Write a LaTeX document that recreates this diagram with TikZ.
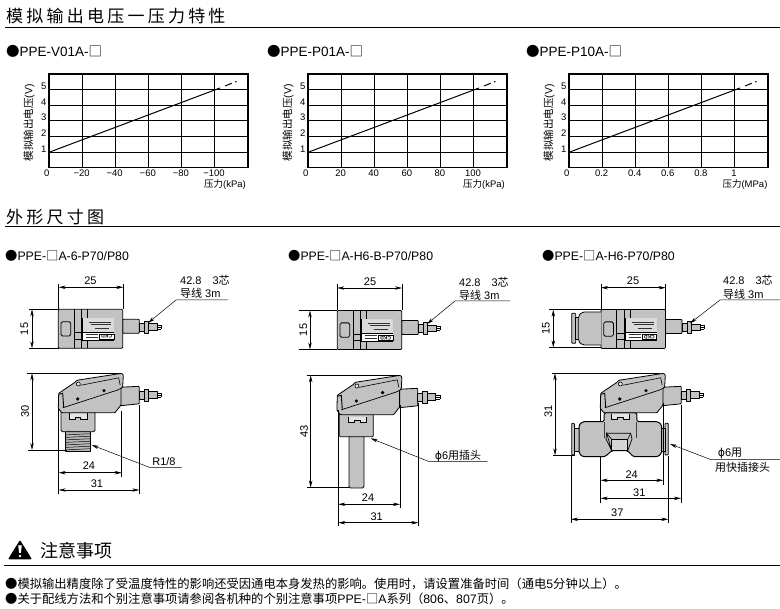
\documentclass[tikz,border=0pt]{standalone}
\usepackage{fontspec}
\setmainfont{Liberation Sans}
\newfontfamily\cjk{Noto Sans CJK SC}
\newfontfamily\cjkhead[LetterSpace=19]{Noto Sans CJK SC}
\newfontfamily\symb{DejaVu Sans}
\usetikzlibrary{arrows.meta}
\newcommand{\sz}[1]{\fontsize{#1}{#1}\selectfont}
\definecolor{devgray}{HTML}{C2C2C2}
\tikzset{
  rule/.style={line width=0.9pt},
  heading/.style={anchor=west, inner sep=0pt, font=\sz{17}},
  subtitle/.style={anchor=west, inner sep=0pt, font=\sz{12.3}},
  grid line/.style={line width=0.7pt},
  frame line/.style={line width=1.4pt},
  curve line/.style={line width=1pt},
  ticklabel/.style={inner sep=0pt, font=\sz{9.5}},
  dev/.style={draw, fill=devgray, line width=0.8pt, line join=round},
  dimline/.style={line width=0.5pt, {Stealth[length=7pt,width=3.4pt]}-{Stealth[length=7pt,width=3.4pt]}},
  extline/.style={line width=0.5pt},
  leader/.style={line width=0.5pt, -{Stealth[length=7pt,width=3.4pt]}},
  dimtext/.style={inner sep=0pt, font=\sz{11}},
  note/.style={anchor=west, inner sep=0pt, font=\sz{12.3}}
}
\newcommand{\pressurechart}[3]{
\begin{scope}[xshift=#1pt]
\foreach \yy in {89.3,105,120.7,136.7,152.3}
  \draw[grid line] (49,\yy) -- (248,\yy);
\foreach \xx in {82.5,115.7,148.5,181.7,214.3}
  \draw[grid line] (\xx,74) -- (\xx,167.3);
\draw[frame line] (49,74) rectangle (248,167.3);
\draw[curve line] (49,152.3) -- (220,88);
\draw[curve line] (225,86) -- (231.7,83.3);
\draw[curve line] (235,82) -- (236.5,81.5);
\foreach \lab [count=\i from 0] in {1,2,3,4,5}
  \node[ticklabel] (ylab#2\i) at (43.7,{149-\i*15.7}) {\lab};
\foreach \lab [count=\i from 0] in {#3}
  \node[ticklabel] (xlab#2\i) at ({\i==0 ? 46.7 : 48.5+\i*33.1},173.5) {\lab};
\node[ticklabel, rotate=90, font=\sz{10.5}] (ytitle#2) at (29,123) {{\cjk 模拟输出电压}(V)};
\end{scope}
}
\newcommand{\plugpart}{
\draw[dev] (0,-4) rectangle (5,4);
\draw[dev] (5,-6) rectangle (9.4,6);
\draw[dev] (9.4,-3.4) rectangle (18,3.4);
\draw[line width=0.6pt] (18,-2) -- (22,-2) (18,0) -- (22,0) (18,2) -- (22,2) (22,-2) -- (22,2);
}
\newcommand{\devhead}{
\draw[dev, rounded corners=0.8pt] (61,14) -- (80.5,13) -- (80.5,30.5) -- (61,32.5) -- cycle;
\begin{scope}[shift={(80.5,22)}]
\plugpart
\end{scope}
\draw[dev, rounded corners=0.8pt] (0,20) -- (16.3,9) -- (18,7) -- (63,0) -- (64.6,1.7) -- (64,13.4) -- (62.3,15)
  -- (62.3,31.7) -- (56.3,39.4) -- (3,39.4) -- (-0.4,35) -- cycle;
\draw[line width=0.7pt] (4,34.5) -- (59,16.7) -- (62.3,15);
\draw[line width=0.9pt] (0,21) -- (4,20) -- (5,34);
\draw[line width=0.6pt] (22,12) -- (60,4.5) -- (61.5,12);
\fill (19,25.7) circle (1.8);
\fill (45.3,17.3) circle (1.8);
\draw[line width=0.6pt, fill=gray!20] (19.6,10.7) circle (2);
}
\newcommand{\devtop}[1]{
\draw[dev, rounded corners=0.8pt] (64.4,10) rectangle (81,24);
\begin{scope}[shift={(81,18)}]
\plugpart
\end{scope}
\draw[dev, rounded corners=1pt] (0,0) rectangle (64.4,39);
\draw[line width=0.8pt, rounded corners=1.5pt] (2.7,12.4) rectangle (12.4,26.7);
\draw[line width=0.7pt] (15.7,0) -- (15.7,39) (23.4,0) -- (23.4,39) (29,0) -- (29,39);
\draw[line width=0.7pt] (15.7,23.4) -- (23.4,23.4) (15.7,30) -- (23.4,30);
\fill[devgray!60] (24,9) rectangle (55.7,23);
\fill[white] (24,23) rectangle (55.7,30.7);
\draw[line width=0.7pt] (24,9) -- (24,30.7) -- (55.7,30.7);
\draw[line width=1.2pt] (24,23) -- (55.7,23);
\draw[line width=0.4pt, gray!40!black] (31,12.5) -- (53,12.5) (33,15) -- (53,15) (37,18.5) -- (51,18.5) (28,25) -- (40,25) (28,27.5) -- (40,27.5);
\draw[line width=0.7pt, fill=white] (41,24.7) rectangle (55.7,30.2);
\node[inner sep=0pt, rotate=180, font=\sz{5}\bfseries] (ckd#1) at (48.3,27.4) {CKD};
}
\begin{document}
\begin{tikzpicture}[x=1pt,y=-1pt]
\useasboundingbox (0,0) rectangle (780,609);
\fill[white] (0,0) rectangle (780,609);

\node[heading] (headA) at (6,16) {\cjkhead 模拟输出电压一压力特性};
\draw[rule] (5,27) -- (780,27);
\node[heading] (headB) at (6,217) {\cjkhead 外形尺寸图};
\draw[rule] (5,226.5) -- (780,226.5);
\node[heading, font=\sz{18}] (headC) at (40,551) {\cjk 注意事项};
\draw[rule] (4,565.5) -- (780,565.5);

\node[subtitle, font=\sz{13.5}] (chartA) at (6,51) {{\cjk ●}PPE-V01A-{\cjk □}};
\node[subtitle, font=\sz{13.5}] (chartB) at (267,51) {{\cjk ●}PPE-P01A-{\cjk □}};
\node[subtitle, font=\sz{13.5}] (chartC) at (526,51) {{\cjk ●}PPE-P10A-{\cjk □}};
\pressurechart{0}{A}{0,−20,−40,−60,−80,−100}
\pressurechart{259}{B}{0,20,40,60,80,100}
\pressurechart{520}{C}{0,0.2,0.4,0.6,0.8,1}
\node[ticklabel] (unitA) at (225,185) {{\cjk 压力}(kPa)};
\node[ticklabel] (unitB) at (484,185) {{\cjk 压力}(kPa)};
\node[ticklabel] (unitC) at (745,185) {{\cjk 压力}(MPa)};

\node[subtitle] (devA) at (5,256) {{\cjk ●}PPE-{\cjk □}A-6-P70/P80};
\node[subtitle] (devB) at (288,256) {{\cjk ●}PPE-{\cjk □}A-H6-B-P70/P80};
\node[subtitle] (devC) at (542,256) {{\cjk ●}PPE-{\cjk □}A-H6-P70/P80};

\begin{scope}[shift={(58.3,309.3)}]
\devtop{A}
\end{scope}
\draw[extline] (58.7,284) -- (58.7,309.3);
\draw[extline] (123.3,284) -- (123.3,309.3);
\draw[dimline] (58.7,287.3) -- (123.3,287.3);
\node[dimtext] (widthA) at (90.5,281) {25};
\draw[extline] (29,309.3) -- (58.7,309.3);
\draw[extline] (29,348.3) -- (58.7,348.3);
\draw[dimline] (32,309.3) -- (32,348.3);
\node[dimtext, rotate=90] (depthA) at (24.5,329) {15};
\node[dimtext, anchor=west] (wireA) at (180,280.5) {42.8\hspace{11pt}3{\cjk 芯}};
\node[dimtext, anchor=west] (lenA) at (180,293.5) {{\cjk 导线}\hspace{3pt}3m};
\coordinate (wireAend) at (228,300);
\coordinate (wireAbend) at (176,300);
\coordinate (wireAtip) at (148,323);
\draw[leader] (wireAend) -- (wireAbend) -- (wireAtip);

\begin{scope}[shift={(58.7,373.3)}]
\draw[dev, fill=gray!55] (7,58) rectangle (32,77.7);
\foreach \yy in {61,63.5,66,68.5,71,73.5,76}
  \draw[line width=0.5pt] (7,\yy+0.6) -- (32,\yy-0.6);
\draw[dev, rounded corners=1.5pt] (2.3,38) -- (2.3,58.4) -- (36.3,58.4) -- (36.3,38) -- cycle;
\draw[dev, fill=gray!20] (10.7,40) -- (10.7,46) -- (17,46) -- (17,44) -- (22,44) -- (22,46) -- (28.7,46) -- (28.7,40);
\devhead
\end{scope}
\draw[extline] (27,373.3) -- (120,373.3);
\draw[extline] (28,450) -- (67,450);
\draw[dimline] (32,373.3) -- (32,450);
\node[dimtext, rotate=90] (heightA) at (25,411.7) {30};
\draw[extline] (58.7,408) -- (58.7,494);
\draw[extline] (121.7,411) -- (121.7,476.7);
\draw[extline] (139.3,405) -- (139.3,494);
\draw[dimline] (58.7,472.7) -- (121.7,472.7);
\draw[dimline] (58.7,490) -- (139.3,490);
\node[dimtext] (portA) at (89,466) {24};
\node[dimtext] (totalA) at (97,484) {31};
\node[dimtext] (threadA) at (164,461.5) {R1/8};
\coordinate (threadAend) at (181.7,467.3);
\coordinate (threadAbend) at (149.3,467.3);
\coordinate (threadAtip) at (91.7,445);
\draw[leader] (threadAend) -- (threadAbend) -- (threadAtip);

\begin{scope}[shift={(337.3,310.5)}]
\devtop{B}
\end{scope}
\draw[extline] (337.3,284) -- (337.3,310.5);
\draw[extline] (402,284) -- (402,310.5);
\draw[dimline] (337.3,288) -- (402,288);
\node[dimtext] (widthB) at (370,281.5) {25};
\draw[extline] (299,310.5) -- (337.3,310.5);
\draw[extline] (299,349.5) -- (337.3,349.5);
\draw[dimline] (310,310.5) -- (310,349.5);
\node[dimtext, rotate=90] (depthB) at (303.5,330) {15};
\node[dimtext, anchor=west] (wireB) at (459,282) {42.8\hspace{11pt}3{\cjk 芯}};
\node[dimtext, anchor=west] (lenB) at (459,295) {{\cjk 导线}\hspace{3pt}3m};
\coordinate (wireBend) at (510,301);
\coordinate (wireBbend) at (455,301);
\coordinate (wireBtip) at (427,324);
\draw[leader] (wireBend) -- (wireBbend) -- (wireBtip);

\begin{scope}[shift={(337.3,375.3)}]
\draw[dev, rounded corners=1.5pt] (11.7,60) -- (11.7,112.7) -- (26.7,112.7) -- (26.7,60) -- cycle;
\draw[dev, rounded corners=1pt] (2,38) -- (2,61.4) -- (36,61.4) -- (36,38) -- cycle;
\draw[dev, fill=gray!20] (11,41.3) -- (11,47) -- (17,47) -- (17,45) -- (23,45) -- (23,47) -- (29.3,47) -- (29.3,41.3);
\devhead
\end{scope}
\draw[extline] (306.7,375.3) -- (398,375.3);
\draw[extline] (306.7,487.5) -- (349,487.5);
\draw[dimline] (310.7,375.3) -- (310.7,487.5);
\node[dimtext, rotate=90] (heightB) at (304,431.7) {43};
\draw[extline] (338.3,410) -- (338.3,526);
\draw[extline] (400,405) -- (400,508);
\draw[extline] (418.3,403) -- (418.3,526);
\draw[dimline] (338.3,504.3) -- (400,504.3);
\draw[dimline] (338.3,522.7) -- (418.3,522.7);
\node[dimtext] (portB) at (368,498) {24};
\node[dimtext] (totalB) at (376.7,516.7) {31};
\node[dimtext] (plugB) at (458,456) {{\symb ϕ}6{\cjk 用插头}};
\coordinate (plugBend) at (487.3,461.7);
\coordinate (plugBbend) at (429.3,461.7);
\coordinate (plugBtip) at (370.7,438.3);
\draw[leader] (plugBend) -- (plugBbend) -- (plugBtip);

\begin{scope}[shift={(601,309.5)}]
\devtop{C}
\end{scope}
\draw[dev, rounded corners=0.8pt] (571.7,313.3) rectangle (575.7,343.3);
\draw[dev] (575.7,317) rectangle (579,339.5);
\draw[dev, rounded corners=2pt] (601,312) -- (582,312) -- (578.3,316) -- (578.3,341) -- (582,345) -- (601,345);
\draw[extline] (601,284) -- (601,310);
\draw[extline] (665.6,284) -- (665.6,310);
\draw[dimline] (601,287.7) -- (665.6,287.7);
\node[dimtext] (widthC) at (633,280.7) {25};
\draw[extline] (549,309.7) -- (601,309.7);
\draw[extline] (549,347.5) -- (601,347.5);
\draw[dimline] (553.3,309.7) -- (553.3,347.5);
\node[dimtext, rotate=90] (depthC) at (546,328.3) {15};
\node[dimtext, anchor=west] (wireC) at (723,280) {42.8\hspace{11pt}3{\cjk 芯}};
\node[dimtext, anchor=west] (lenC) at (723,294) {{\cjk 导线}\hspace{3pt}3m};
\coordinate (wireCend) at (780,300);
\coordinate (wireCbend) at (720,300);
\coordinate (wireCtip) at (690,323.3);
\draw[leader] (wireCend) -- (wireCbend) -- (wireCtip);

\draw[extline] (600.7,405) -- (600.7,422);
\draw[extline] (600.7,456) -- (600.7,502.7);
\begin{scope}[shift={(530,370)}]
\draw[dev, rounded corners=0.8pt] (41.7,53.3) rectangle (44.5,85);
\draw[dev] (44.5,58) rectangle (49,81);
\draw[dev, rounded corners=0.8pt] (135,53.3) rectangle (138.3,85);
\draw[dev] (131.7,58) rectangle (135,81);
\draw[dev, line width=1pt, rounded corners=1.5pt] (49,55) -- (52.5,51.7) -- (74,51.7) -- (74.3,42.7) -- (106.7,42.7) -- (107,51.7)
  -- (128,51.7) -- (131.7,55) -- (131.7,83) -- (128,86.7) -- (103.3,86.7) -- (97.7,80.7) -- (81.7,80.7) -- (75,86.7)
  -- (52.5,86.7) -- (49,83) -- cycle;
\draw[line width=0.7pt] (76.7,63.3) -- (100.7,63.3) -- (102,69) -- (97.7,80.7) (81.7,80.7) -- (76,69) -- (76.7,63.3) -- cycle;
\draw[line width=0.6pt, fill=devgray!70] (81.7,69.3) rectangle (97.7,80.7);
\draw[line width=0.6pt] (76.7,63.3) -- (81.7,69.3) (100.7,63.3) -- (97.7,69.3);
\draw[line width=0.8pt, gray!50!black] (74.3,52) -- (74.3,68.3) (106.7,52) -- (106.7,68.3);
\draw[dev, fill=gray!20] (81,44) -- (81,49.5) -- (87,49.5) -- (87,47.5) -- (93,47.5) -- (93,49.5) -- (99.5,49.5) -- (99.5,44);
\end{scope}
\begin{scope}[shift={(600.7,373.3)}]
\devhead
\end{scope}
\draw[extline] (551.7,373.3) -- (660,373.3);
\draw[extline] (553.3,455.3) -- (575,455.3);
\draw[dimline] (555,373.3) -- (555,455.3);
\node[dimtext, rotate=90] (heightC) at (548.3,411.7) {31};
\draw[extline] (663.3,403) -- (663.3,485);
\draw[extline] (681,405) -- (681,502.7);
\draw[extline] (571,455) -- (571,522.7);
\draw[extline] (668.3,456) -- (668.3,522.7);
\draw[dimline] (600.7,480.3) -- (663.3,480.3);
\draw[dimline] (600.7,498.3) -- (681,498.3);
\draw[dimline] (571,519.3) -- (668.3,519.3);
\node[dimtext] (portC) at (631.7,474.3) {24};
\node[dimtext] (totalC) at (639.3,492.3) {31};
\node[dimtext] (flangeC) at (617.3,512.3) {37};
\node[dimtext] (plugC) at (730,453.3) {{\symb ϕ}6{\cjk 用}};
\node[dimtext, anchor=west] (plugCb) at (715,467.3) {\cjk 用快插接头};
\coordinate (plugCend) at (780,459.3);
\coordinate (plugCbend) at (710,459.3);
\coordinate (plugCtip) at (670,444);
\draw[leader] (plugCend) -- (plugCbend) -- (plugCtip);

\fill[rounded corners=1pt] (20,540) -- (32,559.3) -- (8,559.3) -- cycle;
\fill[white] (18.2,545.5) -- (21.8,545.5) -- (20.9,553) -- (19.1,553) -- cycle;
\fill[white] (20,556) circle (1.4);

\node[note] (noteA) at (5,584) {\cjk ●模拟输出精度除了受温度特性的影响还受因通电本身发热的影响。使用时，请设置准备时间（通电{\rmfamily 5}分钟以上）。};
\node[note] (noteB) at (5,599) {{\cjk ●关于配线方法和个别注意事项请参阅各机种的个别注意事项}PPE-{\cjk □}A{\cjk 系列（}806{\cjk 、}807{\cjk 页）。}};
\end{tikzpicture}
\end{document}
